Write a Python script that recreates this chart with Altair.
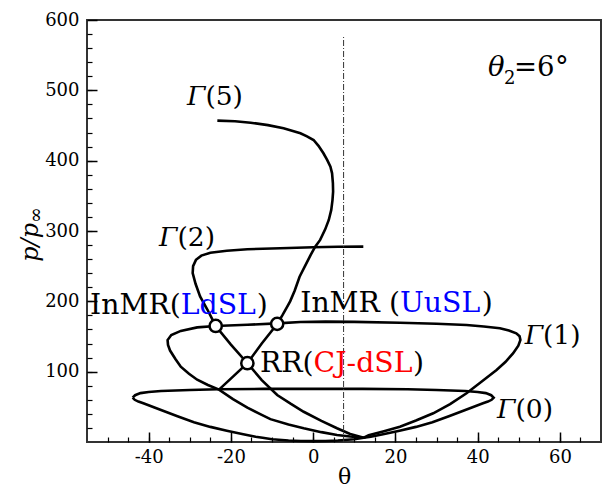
import altair as alt
import pandas as pd

FONT = "DejaVu Serif"

# ---------------- data ----------------
# Gamma(0): closed polar loop
g0_theta = [-43.9, -43.3, -42.0, -40.0, -37.0, -30.0, -23.0, -12.0, 0.0, 12.0, 23.0, 30.0, 37.0, 40.0, 42.0, 43.3, 43.9,
            43.4, 42.5, 41.3, 37.0, 33.0, 29.0, 25.0, 21.0, 17.0, 14.0, 12.3, 10.0, 6.0, 3.0, 0.0,
            -3.0, -6.0, -10.0, -12.3, -14.0, -17.0, -21.0, -25.0, -29.0, -33.0, -37.0, -41.3, -42.5, -43.4, -43.9]
g0_p = [63.0, 66.5, 69.5, 71.0, 72.5, 74.0, 75.0, 75.5, 75.5, 75.5, 75.0, 74.0, 72.5, 71.0, 69.5, 66.5, 63.0,
        60.0, 57.5, 55.0, 45.5, 36.5, 28.0, 21.5, 16.0, 11.0, 7.5, 6.0, 4.0, 2.2, 1.5, 1.2,
        1.5, 2.2, 4.0, 6.0, 7.5, 11.0, 16.0, 21.5, 28.0, 36.5, 45.5, 55.0, 57.5, 60.0, 63.0]

# Gamma(1): closed polar loop
g1_theta = [12.3, 13.5, 17.0, 21.1, 25.0, 29.2, 33.3, 37.3, 41.0, 44.6, 46.8, 48.6, 49.9, 50.4, 50.2, 49.4, 47.6,
            45.4, 41.5, 37.3, 30.0, 21.1, 10.0, 3.0, -3.1, -8.75, -16.0, -23.7, -28.2, -32.2, -34.5, -35.4,
            -35.3, -34.8, -33.5, -32.2, -30.2, -28.2, -25.6, -22.9, -19.5, -16.0, -13.0, -10.4, -6.0, -2.3,
            2.0, 5.8, 9.0, 12.3]
g1_p = [6.0, 9.5, 15.0, 21.8, 30.5, 40.8, 54.0, 69.3, 86.0, 102.4, 114.0, 126.0, 137.0, 145.0, 150.5, 154.6, 158.6,
        161.7, 164.3, 166.4, 168.2, 169.6, 170.8, 171.2, 170.6, 168.6, 166.6, 165.0, 163.0, 158.0, 152.0, 145.0,
        138.0, 130.0, 118.0, 107.0, 97.0, 88.5, 81.0, 74.5, 61.0, 49.0, 40.0, 32.5, 25.0, 19.5,
        14.0, 10.0, 7.8, 6.0]

# Gamma(2): half polar
g2_theta = [12.3, 9.0, 5.8, 2.0, -2.3, -5.5, -8.75, -12.5, -16.0, -20.0, -23.7, -25.7, -27.5, -28.6, -29.3,
            -29.2, -28.5, -27.2, -25.0, -21.0, -16.0, -8.0, 0.0, 6.0, 12.2]
g2_p = [6.0, 11.5, 19.5, 30.0, 43.0, 54.5, 66.8, 88.0, 112.0, 138.5, 165.0, 188.0, 207.0, 225.0, 240.0,
        250.0, 259.0, 265.0, 269.0, 272.0, 274.0, 275.5, 276.8, 277.5, 277.8]

# Gamma(5): half polar
g5_theta = [-22.9, -19.5, -16.0, -12.5, -8.75, -7.5, -6.3, -5.6, -4.5, -3.3, -1.9, -0.6, 0.5, 1.7, 2.9, 3.8,
            4.4, 4.7, 4.85, 4.8, 4.6, 4.2, 3.4, 2.5, 1.3, 0.1, -1.5, -3.1, -7.2, -11.0, -15.2, -19.0, -23.3]
g5_p = [74.5, 93.0, 112.0, 140.0, 167.8, 180.0, 192.4, 200.0, 215.0, 235.0, 251.0, 266.0, 277.7, 287.3, 302.0, 315.7,
        330.0, 344.0, 356.0, 368.0, 382.0, 391.5, 401.0, 410.5, 421.0, 429.4, 434.5, 439.0, 446.0, 450.5, 454.0,
        456.0, 457.0]

# dash-dot reference line
ref_theta = [7.4]
ref_p0 = [0.0]
ref_p1 = [578.0]

# wave-configuration points
pt_theta = [-23.7, -8.75, -16.0]
pt_p = [165.0, 168.0, 112.0]

# curve labels
gl_text = ["(5)", "(2)", "(1)", "(0)"]
gl_theta = [-26.2, -33.0, 55.9, 49.2]
gl_p = [479.0, 278.7, 140.0, 33.7]

# configuration labels (black prefix, coloured part, closing bracket)
cl_prefix = ["InMR(", "InMR (", "RR("]
cl_mid = ["LdSL", "UuSL", "CJ-dSL"]
cl_color = ["#0000ff", "#0000ff", "#ff0000"]
cl_theta = [-32.2, 21.1, 0.1]          # where the coloured part starts
cl_close_theta = [-13.7, 41.0, 24.3]   # where the closing bracket starts
cl_p = [182.0, 185.3, 100.0]

# theta_2 annotation
ann_theta = [42.5]
ann_p = [520.0]

x_major = [-40, -20, 0, 20, 40, 60]
x_minor = list(range(-50, 70, 5))
y_major = [100, 200, 300, 400, 500, 600]
y_minor = list(range(20, 600, 20))

# ---------------- chart ----------------
W, H = 514, 422
XS = alt.Scale(domain=[-55, 70], nice=False, zero=False)
YS = alt.Scale(domain=[0, 600], nice=False, zero=False)


def cdf(t, p):
    return pd.DataFrame({"theta": t, "p": p, "i": list(range(len(t)))})


ax_x_lab = alt.Axis(orient="bottom", values=x_major, ticks=False, domain=False, grid=False,
                    labelFont=FONT, labelFontSize=18, labelColor="black", labelPadding=6,
                    labelExpr="'' + datum.value", title="θ", titleFont=FONT, titleFontSize=22,
                    titleFontWeight="normal", titleColor="black", titleBaseline="alphabetic", titleY=41)
ax_y_lab = alt.Axis(orient="left", values=y_major, ticks=False, domain=False, grid=False,
                    labelFont=FONT, labelFontSize=18, labelColor="black", labelPadding=8, title=None)
ax_x_maj = alt.Axis(orient="top", offset=-H, values=x_major, labels=False, domain=False, grid=False,
                    ticks=True, tickSize=10, tickWidth=1.5, tickColor="black", title=None)
ax_y_maj = alt.Axis(orient="right", offset=-W, values=y_major, labels=False, domain=False, grid=False,
                    ticks=True, tickSize=10, tickWidth=1.5, tickColor="black", title=None)
ax_x_min = alt.Axis(orient="top", offset=-H, values=x_minor, labels=False, domain=False, grid=False,
                    ticks=True, tickSize=5, tickWidth=1.2, tickColor="black", title=None)
ax_y_min = alt.Axis(orient="right", offset=-W, values=y_minor, labels=False, domain=False, grid=False,
                    ticks=True, tickSize=5, tickWidth=1.2, tickColor="black", title=None)


def curve(df, xa, ya):
    return alt.Chart(df).mark_line(color="black", strokeWidth=2.6).encode(
        x=alt.X("theta:Q", scale=XS, axis=xa),
        y=alt.Y("p:Q", scale=YS, axis=ya),
        order=alt.Order("i:Q"),
    )


l0 = curve(cdf(g0_theta, g0_p), ax_x_lab, ax_y_lab)
l1 = curve(cdf(g1_theta, g1_p), ax_x_maj, ax_y_maj)
l2 = curve(cdf(g2_theta, g2_p), ax_x_min, ax_y_min)
l5 = curve(cdf(g5_theta, g5_p), None, None)

ref = alt.Chart(pd.DataFrame({"theta": ref_theta, "p0": ref_p0, "p1": ref_p1})).mark_rule(
    color="#333333", strokeWidth=1, strokeDash=[6, 2, 1, 2]).encode(
    x=alt.X("theta:Q", scale=XS, axis=None),
    y=alt.Y("p0:Q", scale=YS, axis=None),
    y2="p1:Q",
)

pts = alt.Chart(pd.DataFrame({"theta": pt_theta, "p": pt_p})).mark_point(
    shape="circle", filled=True, fill="white", stroke="black", strokeWidth=2.5, size=150, opacity=1).encode(
    x=alt.X("theta:Q", scale=XS, axis=None),
    y=alt.Y("p:Q", scale=YS, axis=None),
)


def text_layer(df, col="text", xcol="theta", **kw):
    base = dict(font=FONT, baseline="alphabetic", color="black")
    base.update(kw)
    return alt.Chart(df).mark_text(**base).encode(
        x=alt.X(f"{xcol}:Q", scale=XS, axis=None),
        y=alt.Y("p:Q", scale=YS, axis=None),
        text=f"{col}:N",
    )


gl_df = pd.DataFrame({"theta": gl_theta, "p": gl_p, "text": gl_text, "g": ["Γ"] * 4})
t_gamma = text_layer(gl_df, col="g", fontSize=26.5, fontStyle="italic", align="right")
t_gpar = text_layer(gl_df, fontSize=26.5, align="left")

FS = 28.3
cl_df = pd.DataFrame({"theta": cl_theta, "t2": cl_close_theta, "p": cl_p, "pre": cl_prefix,
                      "mid": cl_mid, "c": cl_color, "close": [")"] * 3})
t_pre = text_layer(cl_df, col="pre", fontSize=FS, align="right")
t_mid = alt.Chart(cl_df).mark_text(font=FONT, baseline="alphabetic", fontSize=FS, align="left").encode(
    x=alt.X("theta:Q", scale=XS, axis=None),
    y=alt.Y("p:Q", scale=YS, axis=None),
    text="mid:N",
    color=alt.Color("c:N", scale=None),
)
t_close = text_layer(cl_df, col="close", xcol="t2", fontSize=FS, align="left")

ann = pd.DataFrame({"theta": ann_theta, "p": ann_p, "a": ["θ"], "b": ["2"], "c": ["=6"], "d": ["°"]})
t_a = text_layer(ann, col="a", fontSize=27.5, fontStyle="italic", align="left")
t_b = text_layer(ann, col="b", fontSize=18, align="left", dx=16, dy=8)
t_c = text_layer(ann, col="c", fontSize=27.5, align="left", dx=26)
t_d = text_layer(ann, col="d", fontSize=27.5, align="left", dx=67)

yt = pd.DataFrame({"a": ["p/p"], "b": ["∞"]})
t_y1 = alt.Chart(yt).mark_text(font=FONT, fontSize=24, fontStyle="italic", angle=270, align="right",
                               baseline="alphabetic", color="black").encode(
    x=alt.value(-49), y=alt.value(203), text="a:N")
t_y2 = alt.Chart(yt).mark_text(font=FONT, fontSize=19, angle=270, align="left",
                               baseline="alphabetic", color="black", dy=4).encode(
    x=alt.value(-49), y=alt.value(203), text="b:N")

chart = alt.layer(
    l0, l1, l2, l5, ref, pts, t_gamma, t_gpar, t_pre, t_mid, t_close, t_a, t_b, t_c, t_d, t_y1, t_y2
).resolve_axis(x="independent", y="independent").properties(
    width=W, height=H,
    autosize=alt.AutoSizeParams(type="none"),
    padding={"left": 87, "top": 20, "right": 1, "bottom": 48},
).configure_view(stroke="#333333", strokeWidth=2)

chart.save("out.html", embed_options={"renderer": "svg", "actions": False})
